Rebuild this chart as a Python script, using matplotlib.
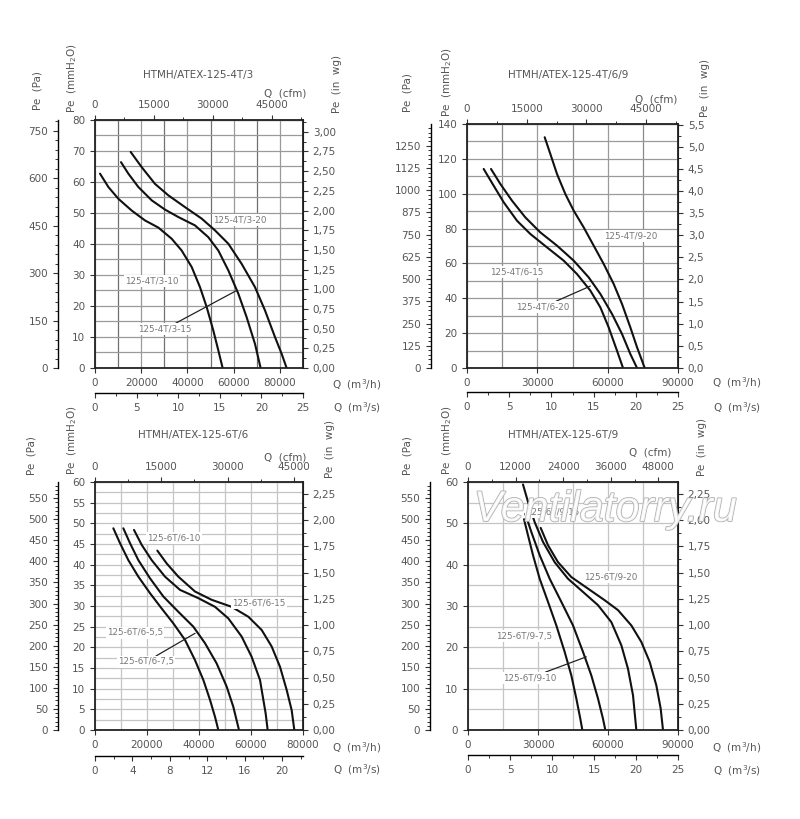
import numpy as np
import matplotlib.pyplot as plt
from matplotlib.ticker import MultipleLocator, FuncFormatter
import matplotlib.patheffects as pe

# ---- data (Q in m3/h, Pe in mmH2O) ----
q_4t3_10 = [2163, 5768, 10094, 15862, 21630, 27398, 33166, 37492, 41818, 45423, 48307, 51191, 53354, 55229]
pe_4t3_10 = [62.7, 58.4, 54.6, 50.8, 47.6, 45.3, 41.7, 37.9, 32.6, 26.1, 19.7, 12.1, 5.7, 0]
q_4t3_15 = [11248, 14420, 18746, 24514, 30282, 36050, 43260, 49028, 53354, 57680, 62006, 65611, 69216, 71667]
pe_4t3_15 = [66.4, 62.7, 58.4, 54.1, 51.1, 48.7, 46.0, 42.2, 37.9, 31.5, 24.0, 16.4, 7.8, 0]
q_4t3_20 = [15429, 20188, 25956, 31724, 38934, 46144, 51912, 57680, 63448, 69216, 73542, 77868, 80752, 82915]
pe_4t3_20 = [69.7, 64.8, 59.4, 55.7, 51.9, 48.2, 44.4, 40.1, 33.6, 26.1, 18.6, 10.0, 4.6, 0]

q_4t6_15 = [7110, 11376, 15642, 21330, 27018, 34128, 41238, 46926, 52614, 56880, 60435, 63990, 66550]
pe_4t6_15 = [114.2, 104.6, 95.1, 84.5, 76.9, 69.2, 61.6, 53.9, 44.4, 34.8, 23.3, 9.9, 0]
q_4t6_20 = [10238, 14220, 19197, 24885, 31284, 38394, 45504, 51903, 56880, 61857, 66123, 69678, 72522]
pe_4t6_20 = [114.2, 105.6, 96.0, 86.4, 77.8, 70.2, 61.6, 52.0, 42.5, 31.0, 19.5, 8.0, 0]
q_4t9_20 = [33133, 35550, 38394, 41949, 45504, 49770, 54036, 58302, 62568, 66123, 69678, 72522, 75800]
pe_4t9_20 = [132.4, 122.8, 111.3, 99.8, 90.3, 80.7, 70.2, 59.7, 48.2, 36.7, 23.3, 11.9, 0]

q_6t6_55 = [7051, 9615, 12820, 16666, 21153, 25640, 30127, 34614, 38460, 41665, 44229, 46152, 47434]
pe_6t6_55 = [48.8, 45.2, 41.1, 37.1, 33.1, 29.4, 25.8, 21.8, 16.9, 12.1, 7.3, 3.2, 0]
q_6t6_75 = [10897, 13461, 16666, 21153, 26281, 32050, 37819, 42306, 46793, 50639, 53203, 55382]
pe_6t6_75 = [48.8, 45.2, 41.1, 36.7, 32.3, 28.6, 25.0, 21.0, 16.1, 10.5, 5.6, 0]
q_6t6_10 = [14999, 17948, 21794, 26922, 32691, 39742, 46152, 51280, 56408, 60254, 63459, 65638, 66408]
pe_6t6_10 = [48.4, 44.8, 41.1, 37.1, 33.9, 31.9, 29.8, 27.0, 22.6, 17.7, 12.1, 4.0, 0]
q_6t6_15 = [23973, 27563, 32050, 38460, 44870, 52562, 58972, 64100, 67946, 71151, 73715, 75638, 76664]
pe_6t6_15 = [43.4, 40.3, 37.1, 33.5, 31.5, 29.8, 27.4, 24.2, 20.2, 15.3, 9.7, 4.8, 0]

q_6t9_75 = [24000, 25714, 27857, 30714, 34286, 37857, 41429, 44286, 46429, 48143, 49000]
pe_6t9_75 = [51.0, 47.1, 42.3, 36.6, 31.0, 25.3, 18.9, 13.2, 7.6, 2.7, 0]
q_6t9_10 = [24571, 27143, 30714, 35000, 40000, 45000, 49286, 52857, 55714, 57857, 58857]
pe_6t9_10 = [52.3, 47.9, 42.3, 36.6, 31.0, 25.3, 18.9, 13.2, 7.6, 2.7, 0]
q_6t9_15 = [23571, 25714, 28571, 32143, 37143, 42857, 49286, 55714, 61429, 65714, 68571, 70714, 72143]
pe_6t9_15 = [59.4, 55.2, 50.3, 45.5, 40.6, 36.6, 33.4, 30.2, 26.1, 20.5, 14.8, 8.4, 0]
q_6t9_20 = [31143, 34286, 38571, 44286, 51429, 58571, 64286, 70000, 74286, 77857, 80714, 82571, 83571]
pe_6t9_20 = [48.9, 44.7, 40.6, 37.0, 34.2, 31.4, 29.0, 25.3, 21.3, 16.5, 10.8, 5.2, 0]

W, H = 800, 819
MM2PA = 9.80665
MM2IN = 1 / 25.4
M3H2CFM = 0.588578
GRAY = '#555555'

fig = plt.figure(figsize=(8, 8.19), dpi=100)


def box(x0, y0, x1, y1):
    return [x0 / W, 1 - y1 / H, (x1 - x0) / W, (y1 - y0) / H]


def txt(x, y, s, rot=0, size=7.5):
    fig.text(x / W, 1 - y / H, s, rotation=rot, ha='center', va='center',
             fontsize=size, color=GRAY)


def comma(fmt):
    return FuncFormatter(lambda v, p: (fmt % v).replace('.', ','))


def style(a):
    a.tick_params(which='major', length=3.5, width=0.8, color='#333333',
                  labelsize=7.5, labelcolor=GRAY)
    a.tick_params(which='minor', length=2, width=0.7, color='#333333')


def panel(rect, xmax, ymax, xlab, xgrid, ylab, ygrid, pa_step, pa_off,
          in_step, in_fmt, cfm_step, ms_step, ms_minor, ms_off, gcol, gcol2):
    ax = fig.add_axes(box(*rect))
    ax.set_xlim(0, xmax)
    ax.set_ylim(0, ymax)
    ax.xaxis.set_major_locator(MultipleLocator(xlab))
    ax.xaxis.set_minor_locator(MultipleLocator(xgrid))
    ax.yaxis.set_major_locator(MultipleLocator(ylab))
    ax.yaxis.set_minor_locator(MultipleLocator(ygrid))
    ax.xaxis.set_major_formatter(FuncFormatter(lambda v, p: '%d' % v))
    ax.grid(which='both', axis='y', color=gcol, lw=0.9)
    ax.grid(which='major', axis='x', color=gcol, lw=0.9)
    ax.grid(which='minor', axis='x', color=gcol2, lw=0.9)
    style(ax)
    ax.tick_params(which='minor', length=0)
    for s in ax.spines.values():
        s.set_linewidth(1.3)
        s.set_color('#222222')

    pa = ax.secondary_yaxis(pa_off, functions=(lambda y: y * MM2PA, lambda p: p / MM2PA))
    pa.yaxis.set_major_locator(MultipleLocator(pa_step))
    pa.yaxis.set_minor_locator(MultipleLocator(pa_step / 5))
    pa.yaxis.set_major_formatter(FuncFormatter(lambda v, p: '%d' % v))
    style(pa)
    pa.spines['left'].set_linewidth(1.0)

    wg = ax.secondary_yaxis('right', functions=(lambda y: y * MM2IN, lambda v: v / MM2IN))
    wg.yaxis.set_major_locator(MultipleLocator(in_step))
    wg.yaxis.set_minor_locator(MultipleLocator(in_step / 2))
    wg.yaxis.set_major_formatter(comma(in_fmt))
    style(wg)

    cfm = ax.secondary_xaxis('top', functions=(lambda q: q * M3H2CFM, lambda c: c / M3H2CFM))
    cfm.xaxis.set_major_locator(MultipleLocator(cfm_step))
    cfm.xaxis.set_minor_locator(MultipleLocator(cfm_step / 2))
    cfm.xaxis.set_major_formatter(FuncFormatter(lambda v, p: '%d' % v))
    style(cfm)

    ms = ax.secondary_xaxis(ms_off, functions=(lambda q: q / 3600, lambda s: s * 3600))
    ms.xaxis.set_major_locator(MultipleLocator(ms_step))
    ms.xaxis.set_minor_locator(MultipleLocator(ms_minor))
    ms.xaxis.set_major_formatter(FuncFormatter(lambda v, p: '%d' % v))
    style(ms)
    ms.spines['bottom'].set_linewidth(1.0)
    return ax


def curve(ax, q, p):
    ax.plot(q, p, color='#111111', lw=1.5, solid_capstyle='round',
            solid_joinstyle='round')


def label(ax, x, y, s, to=None):
    bb = dict(boxstyle='square,pad=0.15', fc='white', ec='none')
    if to is None:
        ax.text(x, y, s, fontsize=6.3, color='#777777', ha='center', va='center', bbox=bb)
    else:
        ax.annotate(s, xy=to, xytext=(x, y), fontsize=6.3, color='#777777',
                    ha='center', va='center', bbox=bb,
                    arrowprops=dict(arrowstyle='-', color='#222222', lw=0.9,
                                    shrinkA=0, shrinkB=0))


# ---- panel 1 ----
ax1 = panel((95, 120, 303, 368), 90000, 80, 20000, 10000, 10, 5, 150, -0.178,
            0.25, '%.2f', 15000, 5, 2.5, -0.10, '#9a9a9a', '#707070')
curve(ax1, q_4t3_10, pe_4t3_10)
curve(ax1, q_4t3_15, pe_4t3_15)
curve(ax1, q_4t3_20, pe_4t3_20)
label(ax1, 62740, 47.7, '125-4T/3-20')
label(ax1, 24663, 28.1, '125-4T/3-10')
label(ax1, 30288, 12.6, '125-4T/3-15', to=(61300, 25.0))
txt(198, 75, 'HTMH/ATEX-125-4T/3')
txt(38, 91, 'Pe  (Pa)', 90)
txt(72, 78, 'Pe  (mmH$_2$O)', 90)
txt(285, 93, 'Q  (cfm)')
txt(337, 84, 'Pe  (in  wg)', 90)
txt(357, 385, 'Q  (m$^3$/h)')
txt(357, 408, 'Q  (m$^3$/s)')

# ---- panel 2 ----
ax2 = panel((467, 124, 678, 368), 90000, 140, 30000, 15000, 20, 10, 125, -0.171,
            0.5, '%.1f', 15000, 5, 2.5, -0.10, '#9a9a9a', '#8a8a8a')
curve(ax2, q_4t6_15, pe_4t6_15)
curve(ax2, q_4t6_20, pe_4t6_20)
curve(ax2, q_4t9_20, pe_4t9_20)
label(ax2, 69946, 75.7, '125-4T/9-20')
label(ax2, 21325, 55.1, '125-4T/6-15')
label(ax2, 32414, 35.0, '125-4T/6-20', to=(52600, 47.0))
txt(568, 75, 'HTMH/ATEX-125-4T/6/9')
txt(407, 93, 'Pe  (Pa)', 90)
txt(447, 82, 'Pe  (mmH$_2$O)', 90)
txt(656, 100, 'Q  (cfm)')
txt(705, 88, 'Pe  (in  wg)', 90)
txt(737, 383, 'Q  (m$^3$/h)')
txt(737, 408, 'Q  (m$^3$/s)')

# ---- panel 3 ----
ax3 = panel((95, 482, 303, 730), 80000, 60, 20000, 10000, 5, 2.5, 50, -0.178,
            0.25, '%.2f', 15000, 4, 2, -0.105, '#c4c4c4', '#c4c4c4')
curve(ax3, q_6t6_55, pe_6t6_55)
curve(ax3, q_6t6_75, pe_6t6_75)
curve(ax3, q_6t6_10, pe_6t6_10)
curve(ax3, q_6t6_15, pe_6t6_15)
label(ax3, 30385, 46.5, '125-6T/6-10')
label(ax3, 63077, 30.7, '125-6T/6-15')
label(ax3, 15385, 23.5, '125-6T/6-5,5')
label(ax3, 19615, 16.5, '125-6T/6-7,5', to=(38500, 23.4))
txt(193, 435, 'HTMH/ATEX-125-6T/6')
txt(32, 456, 'Pe  (Pa)', 90)
txt(72, 440, 'Pe  (mmH$_2$O)', 90)
txt(285, 457, 'Q  (cfm)')
txt(330, 449, 'Pe  (in  wg)', 90)
txt(357, 748, 'Q  (m$^3$/h)')
txt(357, 770, 'Q  (m$^3$/s)')

# ---- panel 4 ----
ax4 = panel((468, 482, 678, 730), 90000, 60, 30000, 15000, 10, 5, 50, -0.181,
            0.25, '%.2f', 12000, 5, 2.5, -0.10, '#c4c4c4', '#c4c4c4')
curve(ax4, q_6t9_75, pe_6t9_75)
curve(ax4, q_6t9_10, pe_6t9_10)
curve(ax4, q_6t9_15, pe_6t9_15)
curve(ax4, q_6t9_20, pe_6t9_20)
label(ax4, 61290, 37.0, '125-6T/9-20')
label(ax4, 36430, 52.7, '125-6T/9-15')
label(ax4, 24000, 22.7, '125-6T/9-7,5')
label(ax4, 26570, 12.6, '125-6T/9-10', to=(50700, 17.7))
txt(563, 435, 'HTMH/ATEX-125-6T/9')
txt(408, 456, 'Pe  (Pa)', 90)
txt(447, 440, 'Pe  (mmH$_2$O)', 90)
txt(650, 452, 'Q  (cfm)')
txt(702, 447, 'Pe  (in  wg)', 90)
txt(737, 748, 'Q  (m$^3$/h)')
txt(737, 771, 'Q  (m$^3$/s)')

# watermark
wm = fig.text(605 / W, 1 - 510 / H, 'Ventilatorry.ru', ha='center', va='center',
              fontsize=31, style='italic', family='Liberation Sans',
              color=(1, 1, 1, 0.6), zorder=10)
wm.set_path_effects([pe.withStroke(linewidth=1.2, foreground='#b0b0b0'),
                     pe.Normal()])

fig.savefig('out.png', dpi=100)
